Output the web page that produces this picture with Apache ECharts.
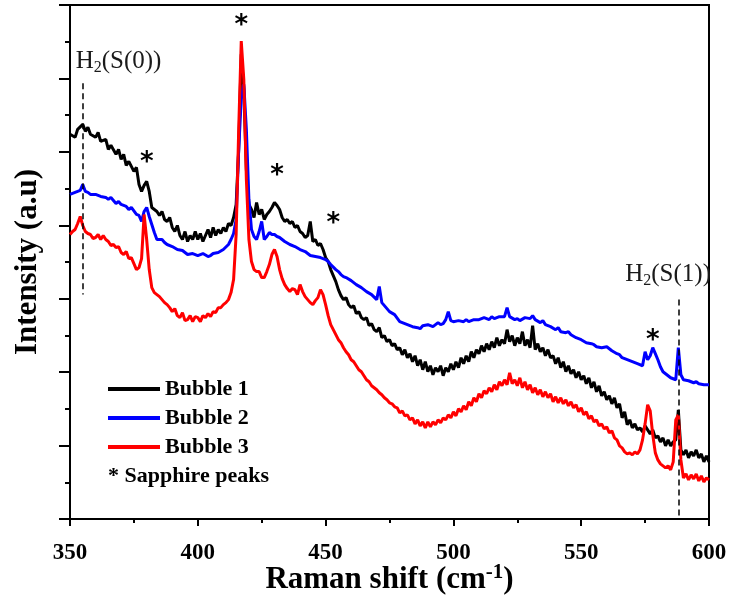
<!DOCTYPE html>
<html>
<head>
<meta charset="utf-8">
<script src="https://cdn.jsdelivr.net/npm/echarts@6/dist/echarts.min.js"></script>
<style>html,body{margin:0;padding:0;background:#fff}#c{width:730px;height:598px}</style>
</head>
<body>
<div id="c"></div>
<script>
// Raman shift (cm-1) and intensity (a.u., arbitrary counts)
const shiftB1 = [350,352,353,355,356,357,358,360,361,362,364,365,366,368,369,370,371,372,373,375,376,377,378,379,380,381,382,384,385,386,387,388,389,390,391,392,393,394,395,396,397,398,399,400,401,402,403,404,405,406,407,408,409,410,411,412,413,414,415,416,417,418,419,420,421,422,423,424,425,426,427,428,429,430,431,432,433,434,435,436,437,438,439,440,441,442,443,444,445,446,447,448,449,450,451,452,453,454,455,456,457,458,459,460,461,462,463,464,465,466,467,468,469,470,471,472,473,474,475,476,477,478,479,480,481,482,483,484,485,486,487,488,489,490,491,492,493,494,495,496,497,498,499,500,501,502,503,504,505,506,507,508,509,510,511,512,513,514,515,516,517,518,519,520,521,522,523,524,525,526,527,528,529,530,531,532,533,534,535,536,537,538,539,540,541,542,543,544,545,546,547,548,549,550,551,552,553,554,555,556,557,558,559,560,561,562,563,564,565,566,567,568,569,570,571,572,573,574,575,576,577,578,579,580,581,582,583,584,585,586,587,588,589,590,591,592,593,594,595,596,597,598,599,600];
const bubble1 = [384,381,389,394,387,391,384,381,386,377,379,369,373,364,369,359,364,353,357,347,351,334,327,333,337,327,311,307,303,307,299,297,301,291,287,293,283,279,287,277,283,279,287,279,285,277,283,289,281,291,283,289,285,291,287,295,293,301,314,369,464,429,349,314,309,301,316,304,309,299,304,307,311,316,313,309,301,297,299,295,297,291,293,287,285,281,283,297,277,279,273,275,269,261,257,249,243,237,229,223,219,221,214,211,213,205,207,201,199,201,193,195,189,187,191,181,183,177,179,173,175,169,171,164,169,161,165,157,163,153,159,149,157,147,153,144,151,147,153,143,151,147,155,149,157,151,161,155,163,157,167,161,169,165,173,167,175,169,177,171,181,173,179,175,189,177,183,173,181,175,187,173,179,171,193,169,175,167,171,163,169,161,163,155,161,151,157,147,153,145,149,141,147,139,143,135,141,131,137,127,133,123,127,119,123,115,121,111,115,101,107,94,99,91,95,89,91,87,93,89,85,89,81,83,77,81,73,79,73,77,79,109,69,64,69,61,67,63,69,61,65,57,63,57];

const shiftB2 = [350,352,354,355,356,357,358,360,362,364,365,366,368,369,370,372,373,374,376,377,378,379,380,381,382,383,384,386,387,388,390,392,394,396,398,400,402,404,405,406,408,410,412,413,414,415,416,417,418,419,420,421,422,423,424,425,426,427,428,429,430,431,432,433,434,436,438,440,442,444,446,448,450,451,452,454,455,456,457,458,460,462,464,466,468,470,471,472,473,475,477,479,481,483,484,486,487,488,490,492,494,495,496,497,498,499,500,502,504,505,506,508,510,512,514,515,516,518,520,521,522,524,525,526,528,530,531,532,534,535,536,538,540,541,542,544,545,546,548,550,552,554,555,556,558,560,562,564,565,566,568,570,572,574,575,576,577,578,579,580,581,582,584,585,586,587,588,589,590,592,594,595,596,598,600];
const bubble2 = [324,326,328,334,327,326,324,324,322,321,319,321,315,317,314,312,309,311,304,303,297,307,311,302,294,286,279,279,276,274,272,269,268,264,265,263,265,262,263,265,266,269,274,279,285,299,369,419,434,389,319,289,282,279,287,297,279,282,286,284,284,282,281,279,277,274,272,269,267,263,262,261,259,257,254,249,247,244,242,241,238,234,231,227,224,219,232,216,213,207,204,197,195,193,192,191,190,193,194,192,196,194,195,199,207,198,197,198,197,199,197,199,199,201,199,202,200,202,202,211,202,199,200,198,201,200,203,199,196,198,194,192,189,191,187,186,187,184,181,179,176,175,174,172,171,172,168,165,164,161,159,157,155,153,167,159,163,171,165,159,152,147,143,141,140,139,171,144,139,138,136,137,135,134,134];

const shiftB3 = [350,351,352,353,354,355,356,357,358,359,360,361,362,363,364,365,366,367,368,369,370,371,372,373,374,375,376,377,378,379,380,381,382,383,384,385,386,387,388,389,390,391,392,393,394,395,396,397,398,399,400,401,402,403,404,405,406,407,408,409,410,411,412,413,414,415,416,417,418,419,420,421,422,423,424,425,426,427,428,429,430,431,432,433,434,435,436,437,438,439,440,441,442,443,444,445,446,447,448,449,450,451,452,453,454,455,456,457,458,459,460,461,462,463,464,465,466,467,468,469,470,471,472,473,474,475,476,477,478,479,480,481,482,483,484,485,486,487,488,489,490,491,492,493,494,495,496,497,498,499,500,501,502,503,504,505,506,507,508,509,510,511,512,513,514,515,516,517,518,519,520,521,522,523,524,525,526,527,528,529,530,531,532,533,534,535,536,537,538,539,540,541,542,543,544,545,546,547,548,549,550,551,552,553,554,555,556,557,558,559,560,561,562,563,564,565,566,567,568,569,570,571,572,573,574,575,576,577,578,579,580,581,582,583,584,585,586,587,588,589,590,591,592,593,594,595,596,597,598,599,600];
const bubble3 = [284,287,289,295,302,293,287,285,284,280,281,284,279,283,279,277,273,274,271,272,266,264,267,260,261,255,249,251,260,304,279,249,231,226,224,222,219,216,214,211,207,210,203,201,206,198,199,203,197,202,201,197,203,201,205,202,207,206,211,211,214,216,219,226,239,284,389,477,439,339,279,257,249,247,247,241,241,247,254,264,269,262,249,240,234,230,227,230,229,224,234,227,222,219,216,214,218,221,229,224,214,203,194,189,184,179,176,171,167,164,159,157,153,149,147,143,139,137,133,131,129,126,124,121,119,116,115,112,111,106,108,103,104,99,101,95,99,93,97,91,97,92,97,94,99,96,101,99,104,101,107,103,110,107,113,109,117,113,121,117,125,121,128,125,131,127,134,129,137,133,139,134,146,135,139,133,141,131,137,129,134,126,131,124,129,122,127,121,125,117,122,116,121,115,119,113,117,111,114,107,111,104,107,100,103,97,99,93,95,90,92,86,88,81,79,73,71,67,65,66,64,67,65,69,79,95,114,108,84,66,59,55,53,51,53,49,57,99,104,59,41,45,39,44,40,45,38,43,37,41,39];

const xTicks = [350,400,450,500,550,600];
const seriesNames = ['Bubble 1','Bubble 2','Bubble 3'];
const starX = [417,380,431,453,578];
const starY = [492,355,342,294,177];
const h2LineX = [355,588];
const h2LineTop = [435,219];
const h2LineBottom = [224,0];
const h2LabelX = [369,584];
const h2LabelY = [457,244];
const h2LabelText = ['0','1'];

const chart = echarts.init(document.getElementById('c'));
const serif = '"Liberation Serif","Times New Roman",serif';
const colors = ['#000000','#0000ff','#ff0000'];
const xs = [shiftB1, shiftB2, shiftB3];
const ys = [bubble1, bubble2, bubble3];

const series = seriesNames.map((n,i)=>({
  name:n, type:'line', showSymbol:false, symbol:'none', z: 2+i,
  data: xs[i].map((x,k)=>[x, ys[i][k]]),
  lineStyle:{color:colors[i], width:3},
  itemStyle:{color:colors[i]},
  animation:false
}));

series.push({
  type:'line', name:'h2lines', data:[], silent:true,
  markLine:{
    symbol:['none','none'], silent:true, animation:false,
    label:{show:false},
    lineStyle:{color:'#000', type:[6,4], width:1.5},
    emphasis:{disabled:true},
    data: h2LineX.map((x,i)=>[{coord:[x,h2LineTop[i]]},{coord:[x,h2LineBottom[i]]}])
  }
});

series.push({
  type:'scatter', name:'stars', symbolSize:0, silent:true, z:10,
  itemStyle:{opacity:1, color:'#000'},
  data: starX.map((x,i)=>[x, starY[i]]),
  label:{show:true, position:'inside', formatter:'*', fontFamily:'"DejaVu Sans",sans-serif', fontWeight:'bold', fontSize:26, color:'#000', textBorderWidth:0},
  animation:false
});

series.push({
  type:'scatter', name:'h2labels', symbolSize:0, silent:true, z:10,
  itemStyle:{opacity:1, color:'#000'},
  data: h2LabelX.map((x,i)=>({value:[x, h2LabelY[i]], t:h2LabelText[i]})),
  label:{show:true, position:'inside', color:'#000', textBorderWidth:0,
    formatter: p => '{a|H}{s|2}{a|(S(' + p.data.t + '))}',
    rich:{
      a:{fontFamily:serif, fontSize:25, color:'#1a1a1a', textBorderWidth:0},
      s:{fontFamily:serif, fontSize:16, color:'#1a1a1a', textBorderWidth:0, padding:[13,0,0,0]}
    }
  },
  animation:false
});

chart.setOption({
  animation:false,
  backgroundColor:'#fff',
  grid:{left:70, right:21, top:5, bottom:79, show:true, borderColor:'#000', borderWidth:2, backgroundColor:'transparent', containLabel:false, outerBoundsMode:'none'},
  legend:{
    data:seriesNames, orient:'vertical', left:108, top:378, padding:0, itemWidth:52, itemHeight:4, itemGap:7,
    icon:'rect',
    textStyle:{fontFamily:serif, fontWeight:'bold', fontSize:22, color:'#000'}
  },
  graphic:[{
    type:'text', left:108, top:465,
    style:{text:'* Sapphire peaks', font:'bold 22px "Liberation Serif", serif', fill:'#000'}
  }],
  xAxis:{
    type:'value', min:xTicks[0], max:xTicks[xTicks.length-1], interval:50,
    axisLine:{show:true, lineStyle:{color:'#000', width:2}},
    axisTick:{show:true, inside:false, length:7, lineStyle:{color:'#000', width:2}},
    minorTick:{show:true, splitNumber:2, length:4, lineStyle:{color:'#000', width:2}},
    splitLine:{show:false},
    axisLabel:{fontFamily:serif, fontWeight:'bold', fontSize:23, color:'#000', margin:23},
    name:'{a|Raman shift (cm}{b|-1}{a|)}', nameLocation:'middle', nameGap:43, nameMoveOverlap:false,
    nameTextStyle:{rich:{
      a:{fontFamily:serif, fontWeight:'bold', fontSize:31, color:'#000'},
      b:{fontFamily:serif, fontWeight:'bold', fontSize:21, color:'#000', padding:[0,0,14,0]}
    }}
  },
  yAxis:{
    type:'value', min:0, max:513.1, interval:73.3,
    axisLine:{show:true, lineStyle:{color:'#000', width:2}},
    axisTick:{show:true, inside:false, length:11, lineStyle:{color:'#000', width:2}},
    minorTick:{show:true, splitNumber:2, length:5, lineStyle:{color:'#000', width:2}},
    splitLine:{show:false},
    axisLabel:{show:false},
    name:'Intensity (a.u)', nameLocation:'middle', nameGap:27, nameRotate:90, nameMoveOverlap:false,
    nameTextStyle:{fontFamily:serif, fontWeight:'bold', fontSize:31, color:'#000'}
  },
  series: series
});
</script>
</body>
</html>
